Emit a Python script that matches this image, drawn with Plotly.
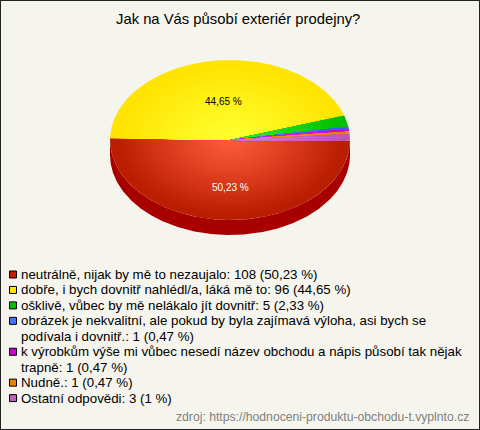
import numpy as np
import plotly.graph_objects as go

title = "Jak na Vás působí exteriér prodejny?"
categories = ["neutrálně, nijak by mě to nezaujalo", "dobře, i bych dovnitř nahlédl/a, láká mě to",
              "ošklivě, vůbec by mě nelákalo jít dovnitř",
              "obrázek je nekvalitní, ale pokud by byla zajímavá výloha, asi bych se podívala i dovnitř.",
              "k výrobkům výše mi vůbec nesedí název obchodu a nápis působí tak nějak trapně",
              "Nudně.", "Ostatní odpovědi"]
counts = [108, 96, 5, 1, 1, 1, 3]
pct_text = ["50,23 %", "44,65 %", "2,33 %", "0,47 %", "0,47 %", "0,47 %", "1 %"]
legend_lines = [
    ["neutrálně, nijak by mě to nezaujalo: 108 (50,23 %)"],
    ["dobře, i bych dovnitř nahlédl/a, láká mě to: 96 (44,65 %)"],
    ["ošklivě, vůbec by mě nelákalo jít dovnitř: 5 (2,33 %)"],
    ["obrázek je nekvalitní, ale pokud by byla zajímavá výloha, asi bych se", "podívala i dovnitř.: 1 (0,47 %)"],
    ["k výrobkům výše mi vůbec nesedí název obchodu a nápis působí tak nějak", "trapně: 1 (0,47 %)"],
    ["Nudně.: 1 (0,47 %)"],
    ["Ostatní odpovědi: 3 (1 %)"],
]
source = "zdroj: https://hodnoceni-produktu-obchodu-t.vyplnto.cz"
edge_colors = [(186, 30, 0), (255, 228, 0), (0, 190, 0), (60, 90, 255), (205, 0, 205), (235, 125, 0), (190, 85, 185)]
centre_colors = [(255, 92, 60), (255, 255, 50), (50, 240, 50), (110, 130, 255), (255, 50, 255), (255, 160, 40), (225, 120, 220)]
swatch_colors = ["#c01e00", "#ffe800", "#00c000", "#4a70ff", "#cc00cc", "#ec8000", "#c060b8"]
side_color = "#a80000"

CX, CY, RX, RY, DEPTH = 230, 140, 120, 80, 15
START = 0.5
RINGS = 32

total = sum(counts)
angles = START + np.cumsum([0] + counts) / total * 360
fig = go.Figure()


def arc(a0, a1, scale=1.0, dy=0.0):
    t = np.radians(np.linspace(a0, a1, max(3, int(abs(a1 - a0) * 2))))
    return CX + RX * scale * np.cos(t), CY + dy + RY * scale * np.sin(t)


def poly(x, y, color):
    fig.add_trace(go.Scatter(x=list(x), y=list(y), mode="lines", fill="toself", fillcolor=color,
                             line=dict(width=0, color=color), hoverinfo="skip", showlegend=False))


# side wall of the slices that face the viewer
for i in range(len(counts)):
    a0, a1 = max(angles[i], 0), min(angles[i + 1], 180)
    if a1 > a0:
        x1, y1 = arc(a0, a1)
        x2, y2 = arc(a1, a0, dy=DEPTH)
        poly(np.r_[x1, x2], np.r_[y1, y2], side_color)

# top face, radial shading built from nested wedges
for i in range(len(counts)):
    for k in range(RINGS):
        s = 1 - k / RINGS
        m = min(1.0, (s / 0.95)) ** 1.1
        col = [round(c + (e - c) * m) for c, e in zip(centre_colors[i], edge_colors[i])]
        x, y = arc(angles[i], angles[i + 1], s)
        poly(np.r_[CX, x, CX], np.r_[CY, y, CY], f"rgb({col[0]},{col[1]},{col[2]})")

font = "Liberation Sans, Arial, sans-serif"
ann = [dict(x=238, y=19, text=title, font=dict(size=14.8, color="#000000"))]
for i, color, radius in [(0, "#ffffff", 0.59), (1, "#000000", 0.49)]:
    mid = np.radians((angles[i] + angles[i + 1]) / 2)
    ann.append(dict(x=CX + RX * radius * np.cos(mid) + 2, y=CY + RY * radius * np.sin(mid),
                    text=pct_text[i], font=dict(size=10, color=color)))

y = 274.5
sw_y = []
for lines in legend_lines:
    sw_y.append(y)
    for ln in lines:
        ann.append(dict(x=18.5, y=y, text=ln, xanchor="left", font=dict(size=13.3, color="#000000")))
        y += 15.45
fig.add_trace(go.Scatter(x=[13] * len(sw_y), y=sw_y, mode="markers", hoverinfo="skip", showlegend=False,
                         marker=dict(symbol="square", size=7, color=swatch_colors, line=dict(width=1, color="#000000"))))
ann.append(dict(x=471, y=417, text=source, xanchor="right", font=dict(size=12.2, color="#808080")))
for a in ann:
    a.update(xref="x", yref="y", showarrow=False, yanchor="middle")
    a.setdefault("xanchor", "center")
    a["font"]["family"] = font

fig.update_layout(
    width=480, height=430, margin=dict(l=0, r=0, t=0, b=0),
    paper_bgcolor="#f5f5ed", plot_bgcolor="#f5f5ed", annotations=ann, showlegend=False,
    xaxis=dict(range=[0, 480], visible=False, fixedrange=True),
    yaxis=dict(range=[430, 0], visible=False, fixedrange=True),
    shapes=[dict(type="rect", xref="paper", yref="paper", x0=0, y0=0, x1=1, y1=1,
                 line=dict(color="#222222", width=2), layer="above")],
)
fig.write_html("out.html", config={"displayModeBar": False, "responsive": False},
               post_script="document.documentElement.style.overflow='hidden';document.body.style.margin='0';")
